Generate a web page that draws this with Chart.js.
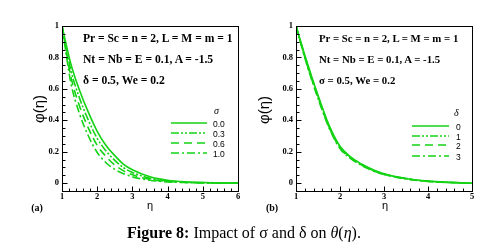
<!DOCTYPE html>
<html>
<head>
<meta charset="utf-8">
<script src="https://cdn.jsdelivr.net/npm/chart.js@4/dist/chart.umd.min.js"></script>
<style>
  body { margin: 0; width: 503px; height: 247px; background: #fff; position: relative; overflow: hidden; }
  canvas { position: absolute; top: 0; }
  .t { position: absolute; white-space: nowrap; color: #000; line-height: 1; }
  .ann { font: bold 11.6px "Liberation Serif", serif; }
  .leg { font: 8.5px "Liberation Sans", sans-serif; }
  .hdr { font: italic 10px "Liberation Serif", serif; }
  .ytl { font: 15px "Liberation Sans", sans-serif; transform: translate(-50%, -50%) rotate(-90deg); }
  .xtl { font: 11px "Liberation Sans", sans-serif; transform: translate(-50%, -50%); }
  .pl { font: bold 10px "Liberation Serif", serif; transform: translate(-50%, -50%); }
  .cap { font: 16px "Liberation Serif", serif; left: 244px; top: 233px; transform: translate(-50%, -50%); }
</style>
</head>
<body>
<canvas id="chartA" width="250" height="215" style="left:0"></canvas>
<canvas id="chartB" width="253" height="215" style="left:250px"></canvas>

<div class="t ann" style="left:83px; top:32px">Pr = Sc = n = 2, L = M = m = 1</div>
<div class="t ann" style="left:83px; top:53px">Nt = Nb = E = 0.1, A = -1.5</div>
<div class="t ann" style="left:83px; top:74px">δ = 0.5, We = 0.2</div>
<div class="t ann" style="left:319px; top:32px; font-size:10.8px">Pr = Sc = n = 2, L = M = m = 1</div>
<div class="t ann" style="left:319px; top:53px; font-size:10.8px">Nt = Nb = E = 0.1, A = -1.5</div>
<div class="t ann" style="left:319px; top:74px; font-size:10.8px">σ = 0.5, We = 0.2</div>

<div class="t hdr" style="left:214px; top:105px">σ</div>
<div class="t leg" style="left:213px; top:119px">0.0</div>
<div class="t leg" style="left:213px; top:129px">0.3</div>
<div class="t leg" style="left:213px; top:139px">0.6</div>
<div class="t leg" style="left:213px; top:149px">1.0</div>

<div class="t hdr" style="left:454px; top:107px">δ</div>
<div class="t leg" style="left:456px; top:122px">0</div>
<div class="t leg" style="left:456px; top:132px">1</div>
<div class="t leg" style="left:456px; top:141px">2</div>
<div class="t leg" style="left:456px; top:152px">3</div>

<div class="t ytl" style="left:38px; top:109px">φ(η)</div>
<div class="t ytl" style="left:263px; top:110px">φ(η)</div>
<div class="t xtl" style="left:150px; top:205px">η</div>
<div class="t xtl" style="left:385px; top:205px">η</div>
<div class="t pl" style="left:37px; top:207px">(a)</div>
<div class="t pl" style="left:272px; top:207px">(b)</div>

<div class="t cap"><b>Figure 8:</b> Impact of σ and δ on <i>θ</i>(<i>η</i>).</div>

<script>
// panel (a): effect of sigma
const etaA = [1, 1.25, 1.5, 1.75, 2, 2.25, 2.5, 2.75, 3, 3.5, 4, 4.5, 5, 5.5, 6];
const sigmaLabels = ['0.0', '0.3', '0.6', '1.0'];
const phiSigma00 = [1, 0.76, 0.59, 0.45, 0.33, 0.24, 0.175, 0.12, 0.085, 0.04, 0.018, 0.008, 0.004, 0.002, 0];
const phiSigma03 = [1, 0.72, 0.54, 0.40, 0.285, 0.205, 0.145, 0.098, 0.068, 0.031, 0.014, 0.006, 0.003, 0.001, 0];
const phiSigma06 = [1, 0.68, 0.49, 0.35, 0.24, 0.17, 0.115, 0.078, 0.053, 0.024, 0.011, 0.005, 0.002, 0.001, 0];
const phiSigma10 = [1, 0.64, 0.44, 0.30, 0.195, 0.13, 0.088, 0.06, 0.04, 0.018, 0.008, 0.004, 0.002, 0.001, 0];

// panel (b): effect of delta
const etaB = [1, 1.25, 1.5, 1.75, 2, 2.25, 2.5, 2.75, 3, 3.5, 4, 4.5, 5];
const deltaLabels = ['0', '1', '2', '3'];
const phiDelta0 = [1, 0.77, 0.56, 0.37, 0.235, 0.165, 0.12, 0.085, 0.06, 0.03, 0.013, 0.005, 0];
const phiDelta1 = [1, 0.765, 0.555, 0.365, 0.23, 0.162, 0.117, 0.083, 0.058, 0.029, 0.012, 0.005, 0];
const phiDelta2 = [1, 0.755, 0.545, 0.357, 0.224, 0.158, 0.114, 0.08, 0.057, 0.028, 0.012, 0.004, 0];
const phiDelta3 = [1, 0.75, 0.54, 0.352, 0.22, 0.155, 0.111, 0.078, 0.055, 0.027, 0.011, 0.004, 0];

const xTicksA = [1, 2, 3, 4, 5, 6];
const xTicksB = [1, 2, 3, 4, 5];
const yTicks = [0, 0.2, 0.4, 0.6, 0.8, 1];

const green = 'rgb(20, 210, 20)';
const dashes = [[], [8, 2, 2, 2, 2, 2], [8, 5], [8, 3, 2, 3]];

function pts(xs, ys) {
    return xs.map((x, i) => ({ x: x, y: ys[i] }));
}

function range(a, b, step) {
    const out = [];
    for (let v = a; v <= b + 1e-9; v += step) out.push(+v.toFixed(3));
    return out;
}

// box, inward ticks and legend samples
const frame = {
    id: 'frame',
    afterDraw(chart, args, o) {
        const { ctx, chartArea: a, scales: { x, y } } = chart;
        ctx.save();
        ctx.strokeStyle = '#000';
        ctx.lineWidth = 1;
        ctx.setLineDash([]);
        const L = Math.round(a.left) + 0.5, R = Math.round(a.right) + 0.5;
        const T = Math.round(a.top) + 0.5, B = Math.round(a.bottom) + 0.5;
        ctx.strokeRect(L, T, R - L, B - T);
        ctx.beginPath();
        range(x.min, x.max, 0.2).forEach(v => {
            const px = Math.round(x.getPixelForValue(v)) + 0.5;
            const len = Math.abs(v - Math.round(v)) < 1e-6 ? 5 : 3;
            ctx.moveTo(px, B); ctx.lineTo(px, B - len);
        });
        range(0, 1, 0.05).forEach(v => {
            const py = Math.round(y.getPixelForValue(v)) + 0.5;
            const len = Math.abs(v * 5 - Math.round(v * 5)) < 1e-6 ? 5 : 3;
            ctx.moveTo(L, py); ctx.lineTo(L + len, py);
        });
        ctx.stroke();
        chart.data.datasets.forEach((ds, i) => {
            ctx.beginPath();
            ctx.strokeStyle = ds.borderColor;
            ctx.lineWidth = ds.borderWidth;
            ctx.setLineDash(ds.borderDash);
            ctx.moveTo(o.x0, o.ys[i]);
            ctx.lineTo(o.x1, o.ys[i]);
            ctx.stroke();
        });
        ctx.restore();
    }
};

const tickFont = { family: 'Liberation Serif', size: 8.5, weight: 'bold' };

function makeChart(id, eta, series, xTicks, xMax, padRight, yWidth, legend) {
    return new Chart(document.getElementById(id), {
        type: 'line',
        data: {
            datasets: series.map((s, i) => ({
                data: pts(eta, s),
                borderColor: green,
                borderWidth: 1.6,
                borderDash: dashes[i],
                pointRadius: 0,
                fill: false,
                cubicInterpolationMode: 'monotone'
            }))
        },
        options: {
            responsive: false,
            animation: false,
            devicePixelRatio: 1,
            layout: { padding: { top: 26, right: padRight, left: 0, bottom: 0 } },
            plugins: { legend: { display: false }, tooltip: { enabled: false }, frame: legend },
            scales: {
                x: {
                    type: 'linear', min: 1, max: xMax,
                    afterBuildTicks: s => { s.ticks = xTicks.map(v => ({ value: v })); },
                    afterFit: s => { s.height = 24; },
                    grid: { display: false, drawTicks: false, tickLength: 0 },
                    border: { display: false },
                    ticks: { color: '#000', padding: 1, maxRotation: 0, font: tickFont, callback: v => String(v) }
                },
                y: {
                    type: 'linear', min: -0.05, max: 1,
                    afterBuildTicks: s => { s.ticks = yTicks.map(v => ({ value: v })); },
                    afterFit: s => { s.width = yWidth; },
                    grid: { display: false, drawTicks: false, tickLength: 0 },
                    border: { display: false },
                    ticks: { color: '#000', padding: 3, font: tickFont, callback: v => String(+v.toFixed(2)) }
                }
            }
        },
        plugins: [frame]
    });
}

makeChart('chartA', etaA, [phiSigma00, phiSigma03, phiSigma06, phiSigma10], xTicksA, 6, 12, 62,
    { x0: 171, x1: 207, ys: [123, 133, 143, 153] });
makeChart('chartB', etaB, [phiDelta0, phiDelta1, phiDelta2, phiDelta3], xTicksB, 5, 31, 46,
    { x0: 162, x1: 199, ys: [126, 136, 145, 156] });
</script>
</body>
</html>
